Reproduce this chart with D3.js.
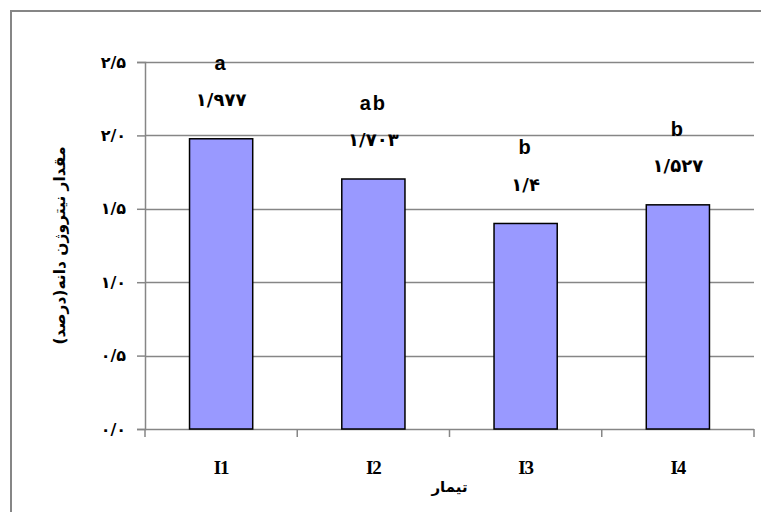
<!DOCTYPE html>
<html>
<head>
<meta charset="utf-8">
<script src="https://cdn.jsdelivr.net/npm/d3@7"></script>
<style>
  body { margin:0; background:#fff; }
  svg { display:block; }
</style>
</head>
<body>
<script>
// data
const treatments = ["I1", "I2", "I3", "I4"];
const nitrogen = [1.977, 1.703, 1.4, 1.527];
const valueLabels = ["۱/۹۷۷", "۱/۷۰۳", "۱/۴", "۱/۵۲۷"];
const groupLetters = ["a", "ab", "b", "b"];
const yTicks = [0, 0.5, 1.0, 1.5, 2.0, 2.5];
const yTickLabels = ["۰/۰", "۰/۵", "۱/۰", "۱/۵", "۲/۰", "۲/۵"];

const width = 761, height = 512;
const plotLeft = 145, plotRight = 754, plotTop = 62, plotBottom = 429;
const gray = "#868686";

const svg = d3.select("body").append("svg")
  .attr("width", width)
  .attr("height", height);

// outer chart frame (runs off the page to the right and bottom)
svg.append("rect")
  .attr("x", 11).attr("y", 11)
  .attr("width", 800).attr("height", 600)
  .attr("fill", "none")
  .attr("stroke", gray)
  .attr("stroke-width", 2);

const x = d3.scaleBand()
  .domain(treatments)
  .range([plotLeft, plotRight])
  .paddingInner(0.585)
  .paddingOuter(0.2925);

const y = d3.scaleLinear()
  .domain([0, 2.5])
  .range([plotBottom, plotTop]);

// gridlines
svg.append("g").selectAll("line")
  .data(yTicks.filter(d => d > 0))
  .enter().append("line")
  .attr("x1", plotLeft).attr("x2", plotRight)
  .attr("y1", d => Math.round(y(d)) + 0.5)
  .attr("y2", d => Math.round(y(d)) + 0.5)
  .attr("stroke", gray)
  .attr("stroke-width", 1.5);

// y axis
const yAxis = d3.axisLeft(y)
  .tickValues(yTicks)
  .tickSize(8)
  .tickPadding(11)
  .tickFormat((d, i) => yTickLabels[i]);

const gy = svg.append("g")
  .attr("transform", `translate(${plotLeft},0)`)
  .call(yAxis);
gy.select(".domain").attr("stroke", gray).attr("stroke-width", 1.5);
gy.selectAll(".tick line").attr("stroke", gray).attr("stroke-width", 1.5);
gy.selectAll(".tick text")
  .attr("fill", "#000")
  .style("font-family", "'DejaVu Sans', sans-serif")
  .style("font-weight", "bold")
  .style("font-size", "16px");

// x axis with ticks on band edges
const edges = d3.range(treatments.length + 1).map(i => plotLeft + i * (plotRight - plotLeft) / treatments.length);
const gx = svg.append("g");
gx.append("line")
  .attr("x1", plotLeft).attr("x2", plotRight)
  .attr("y1", plotBottom + 0.5).attr("y2", plotBottom + 0.5)
  .attr("stroke", gray).attr("stroke-width", 1.5);
gx.selectAll(".edge")
  .data(edges)
  .enter().append("line")
  .attr("x1", d => d).attr("x2", d => d)
  .attr("y1", plotBottom).attr("y2", plotBottom + 8)
  .attr("stroke", gray).attr("stroke-width", 1.5);
gx.selectAll(".cat")
  .data(treatments)
  .enter().append("text")
  .attr("x", d => x(d) + x.bandwidth() / 2)
  .attr("y", 474)
  .attr("text-anchor", "middle")
  .style("font-family", "'Liberation Serif', serif")
  .style("font-weight", "bold")
  .style("font-size", "19px")
  .style("letter-spacing", "-1px")
  .text(d => d);

// bars
svg.append("g").selectAll("rect")
  .data(nitrogen)
  .enter().append("rect")
  .attr("x", (d, i) => x(treatments[i]))
  .attr("y", d => y(d))
  .attr("width", x.bandwidth())
  .attr("height", d => plotBottom - y(d))
  .attr("fill", "#9999FF")
  .attr("stroke", "#000")
  .attr("stroke-width", 1.5);

// value labels
svg.append("g").selectAll("text")
  .data(nitrogen)
  .enter().append("text")
  .attr("x", (d, i) => x(treatments[i]) + x.bandwidth() / 2)
  .attr("y", d => y(d) - 39)
  .attr("dy", "0.35em")
  .attr("text-anchor", "middle")
  .style("font-family", "'DejaVu Sans', sans-serif")
  .style("font-weight", "bold")
  .style("font-size", "18px")
  .text((d, i) => valueLabels[i]);

// significance letters
svg.append("g").selectAll("text")
  .data(nitrogen)
  .enter().append("text")
  .attr("x", (d, i) => x(treatments[i]) + x.bandwidth() / 2)
  .attr("y", d => y(d) - 76)
  .attr("dy", "0.35em")
  .attr("text-anchor", "middle")
  .style("font-family", "'Liberation Sans', Arial, sans-serif")
  .style("font-weight", "bold")
  .style("font-size", "20px")
  .style("letter-spacing", "2px")
  .text((d, i) => groupLetters[i]);

// axis titles
svg.append("text")
  .attr("transform", `translate(60,${(plotTop + plotBottom) / 2}) rotate(-90)`)
  .attr("text-anchor", "middle")
  .attr("dy", "0.35em")
  .style("font-family", "'DejaVu Sans', sans-serif")
  .style("font-weight", "bold")
  .style("font-size", "15.5px")
  .text("مقدار نیتروژن دانه(درصد)");

svg.append("text")
  .attr("x", (plotLeft + plotRight) / 2)
  .attr("y", 487)
  .attr("dy", "0.35em")
  .attr("text-anchor", "middle")
  .style("font-family", "'DejaVu Sans', sans-serif")
  .style("font-weight", "bold")
  .style("font-size", "15px")
  .text("تیمار");
</script>
</body>
</html>
